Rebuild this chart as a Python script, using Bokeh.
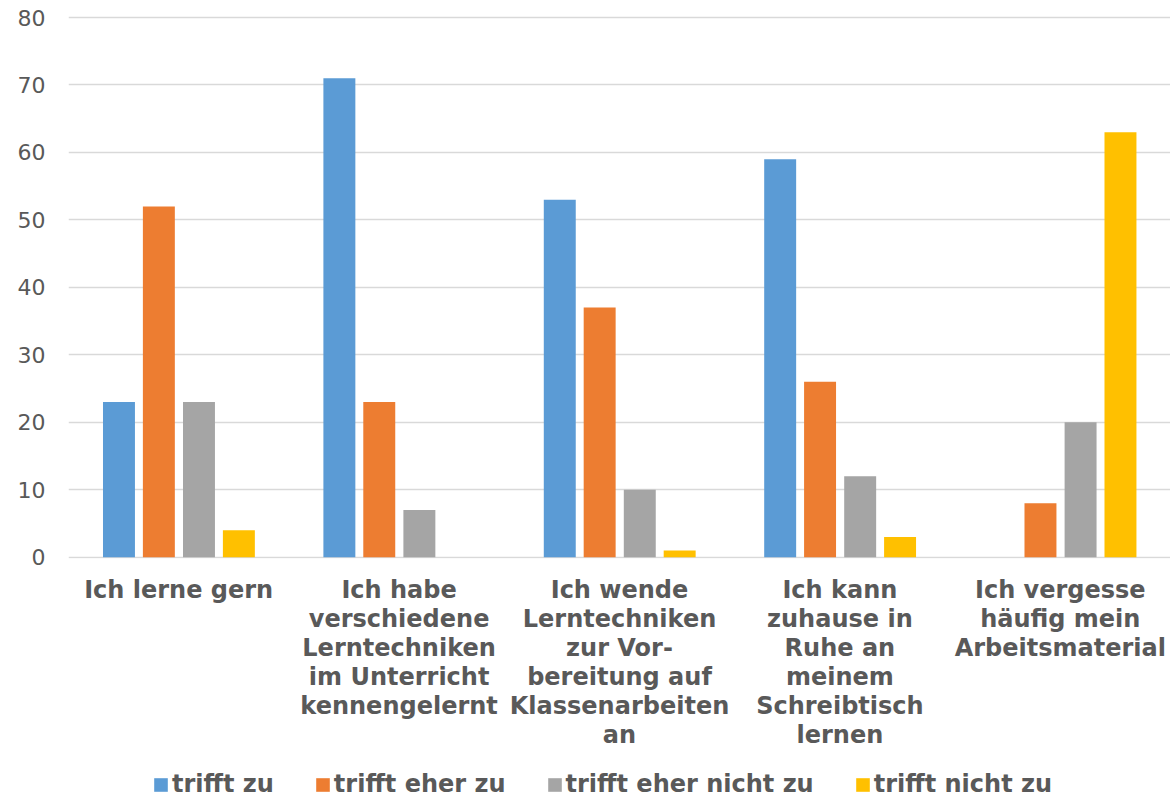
from bokeh.plotting import figure
from bokeh.layouts import column
from bokeh.models import ColumnDataSource, FactorRange, Legend, LegendItem, SingleIntervalTicker
from bokeh.transform import dodge
from bokeh.embed import file_html
from bokeh.resources import INLINE

categories = [
    "Ich lerne gern",
    "Ich habe\nverschiedene\nLerntechniken\nim Unterricht\nkennengelernt",
    "Ich wende\nLerntechniken\nzur Vor-\nbereitung auf\nKlassenarbeiten\nan",
    "Ich kann\nzuhause in\nRuhe an\nmeinem\nSchreibtisch\nlernen",
    "Ich vergesse\nhäufig mein\nArbeitsmaterial",
]
series_names = ["trifft zu", "trifft eher zu", "trifft eher nicht zu", "trifft nicht zu"]
trifft_zu = [23, 71, 53, 59, 0]
trifft_eher_zu = [52, 23, 37, 26, 8]
trifft_eher_nicht_zu = [23, 7, 10, 12, 20]
trifft_nicht_zu = [4, 0, 1, 3, 63]
colors = ["#5B9BD5", "#ED7D31", "#A5A5A5", "#FFC000"]

src = ColumnDataSource(dict(cat=categories, s0=trifft_zu, s1=trifft_eher_zu,
                            s2=trifft_eher_nicht_zu, s3=trifft_nicht_zu))

p = figure(frame_width=1102, frame_height=543, x_range=FactorRange(*categories), y_range=(-0.2, 80.3),
           output_backend="svg", toolbar_location=None,
           min_border_left=68, min_border_right=0, min_border_top=15, min_border_bottom=200)
p.outline_line_color = None
p.background_fill_color = "white"

offsets = [-0.271, -0.090, 0.092, 0.273]
for i, col in enumerate(["s0", "s1", "s2", "s3"]):
    p.vbar(x=dodge("cat", offsets[i], range=p.x_range), top=col, width=0.145,
           source=src, fill_color=colors[i], line_color=None)

p.xgrid.grid_line_color = None
p.ygrid.grid_line_color = "#D9D9D9"
p.ygrid.grid_line_width = 1.5
p.yaxis.ticker = SingleIntervalTicker(interval=10)
p.yaxis.axis_line_color = None
p.yaxis.major_tick_line_color = None
p.yaxis.minor_tick_line_color = None
p.yaxis.major_tick_out = 0
p.yaxis.minor_tick_out = 0
p.yaxis.major_label_text_font = "DejaVu Sans"
p.yaxis.major_label_text_font_size = "22px"
p.yaxis.major_label_text_color = "#595959"
p.yaxis.major_label_standoff = 23

p.xaxis.axis_line_color = None
p.xaxis.major_tick_line_color = None
p.xaxis.major_tick_out = 0
p.xaxis.major_label_text_font = "DejaVu Sans"
p.xaxis.major_label_text_font_size = "24px"
p.xaxis.major_label_text_font_style = "bold"
p.xaxis.major_label_text_color = "#595959"
p.xaxis.major_label_text_line_height = 1.04
p.xaxis.major_label_standoff = 17
p.xaxis.major_label_orientation = "horizontal"

# legend strip below the chart
lf = figure(width=1170, height=40, x_range=(0, 1), y_range=(0, 1),
            x_axis_type=None, y_axis_type=None, output_backend="svg", toolbar_location=None,
            min_border=0)
lf.outline_line_color = None
lf.xgrid.visible = False
lf.ygrid.visible = False
dummy = []
for i in range(4):
    dummy.append(lf.vbar(x=[0.5], top=[0], bottom=[0], width=0, fill_color=colors[i], line_color=None))

legend = Legend(items=[LegendItem(label=series_names[i], renderers=[dummy[i]]) for i in range(4)],
                orientation="horizontal", location=(84, 0),
                label_text_font="DejaVu Sans", label_text_font_size="24px",
                label_text_font_style="bold", label_text_color="#595959",
                glyph_width=17, glyph_height=17, label_standoff=3, spacing=40,
                border_line_color=None, background_fill_alpha=0, padding=0, margin=0)
lf.add_layout(legend, "center")

layout = column(p, lf, spacing=0)
open("out.html", "w").write(file_html(layout, INLINE))
